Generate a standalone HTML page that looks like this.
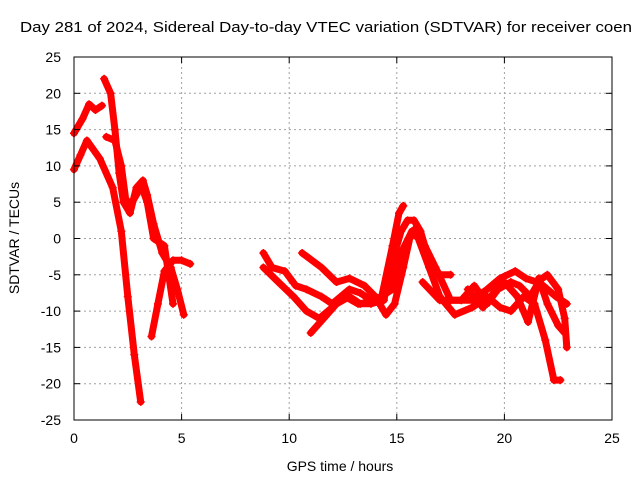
<!DOCTYPE html>
<html><head><meta charset="utf-8"><style>
html,body{margin:0;padding:0;background:#fff;}
svg{display:block;font-family:"Liberation Sans",sans-serif;}
</style></head><body>
<svg id="chart" width="640" height="480" viewBox="0 0 640 480">
<text x="20" y="32" font-size="15" textLength="612" lengthAdjust="spacingAndGlyphs">Day 281 of 2024, Sidereal Day-to-day VTEC variation (SDTVAR) for receiver coen</text>
<g id="grid"></g>
<g id="series"></g>
<rect x="74" y="57" width="538" height="363" fill="none" stroke="#000" stroke-width="1"/>
<g id="ticks"></g>
<text x="340" y="471" font-size="14" text-anchor="middle">GPS time / hours</text>
<text transform="translate(19,238) rotate(-90)" font-size="14" text-anchor="middle">SDTVAR / TECUs</text>
</svg>
<script>
const xTicks=[0,5,10,15,20,25];
const yTicks=[25,20,15,10,5,0,-5,-10,-15,-20,-25];
const traceA=[[0,14.5],[0.4,16.5],[0.7,18.5],[1.0,17.7],[1.3,18.3]];
const traceB=[[0,9.5],[0.3,11.5],[0.6,13.5],[1.2,11],[1.8,7],[2.2,1],[2.5,-8],[2.8,-16],[3.1,-22.5]];
const traceC=[[1.4,22],[1.7,20],[1.9,15],[2.1,9],[2.3,5],[2.6,3.5],[2.9,7],[3.2,8],[3.4,6],[3.7,2],[4.1,-2],[4.5,-4],[4.8,-7],[5.1,-10.5]];
const traceD=[[1.5,14],[1.9,13.5],[2.2,10],[2.4,5.5],[2.6,4.5],[2.9,6],[3.1,7.5],[3.4,5],[3.7,0],[4.2,-1],[4.4,-5],[4.6,-9]];
const traceE=[[3.6,-13.5],[3.9,-9],[4.2,-4.5],[4.6,-3],[5.0,-3],[5.4,-3.5]];
const traceF=[[8.8,-2],[9.2,-4],[9.8,-4.5],[10.3,-6.5],[10.8,-7],[11.5,-8],[12,-9],[12.8,-7],[13.3,-7.5],[13.8,-8.5],[14.3,-8],[14.8,-1],[15.1,3.5],[15.3,4.5]];
const traceG=[[8.8,-4],[9.5,-6],[10.2,-8],[10.8,-10],[11.4,-11],[12,-9.5],[12.6,-8],[13.2,-9],[13.8,-9],[14.4,-8.5],[14.8,-3],[15.2,1],[15.5,2.5],[15.8,2.5],[16.1,1],[16.5,-3],[17,-5],[17.5,-5]];
const traceH=[[10.6,-2],[11.5,-4],[12.2,-6],[12.8,-5.5],[13.5,-6.5],[14,-8],[14.5,-10.5],[14.9,-9],[15.3,-4],[15.6,0],[15.9,1.5],[16.3,-1],[16.8,-4],[17.5,-8.5],[18.5,-8.5],[19.2,-7],[19.8,-5.5],[20.5,-4.5],[21,-5.5],[21.5,-6],[22,-5],[22.5,-7],[22.8,-11],[22.9,-15]];
const traceI=[[11,-13],[11.6,-11],[12.2,-9],[12.8,-8],[13.3,-9],[14,-8.5],[14.8,-7],[15.2,-2],[15.7,1],[16,0],[16.5,-4],[17,-8],[17.7,-10.5],[18.5,-9.5],[19.2,-8],[19.8,-9.5],[20.3,-10],[20.9,-8],[21.4,-9],[21.9,-14],[22.3,-19.5],[22.6,-19.5]];
const traceJ=[[16.2,-6],[17,-8.5],[18,-8.5],[18.6,-6.5],[19.2,-9],[19.7,-7],[20.3,-6],[20.7,-6.5],[21.2,-8],[21.6,-6],[22,-7],[22.4,-8],[22.9,-9]];
const traceK=[[18.3,-7],[19,-9.5],[19.5,-7.5],[20,-6],[20.6,-8],[21.1,-11.5],[21.6,-5.5],[22,-9],[22.5,-12],[22.8,-13]];
const traces=[traceA,traceB,traceC,traceD,traceE,traceF,traceG,traceH,traceI,traceJ,traceK];

const NS="http://www.w3.org/2000/svg";
const X0=74,X1=612,Y0=420,Y1=57;
function sx(v){return X0+(v-0)/(25-0)*(X1-X0);}
function sy(v){return Y0-(v+25)/50*(Y0-Y1);}
function mk(tag,attrs,parent){const e=document.createElementNS(NS,tag);for(const k in attrs)e.setAttribute(k,attrs[k]);parent.appendChild(e);return e;}
const grid=document.getElementById('grid'),ticks=document.getElementById('ticks'),ser=document.getElementById('series');
xTicks.forEach(t=>{
  const x=sx(t);
  if(t>0&&t<25){const l=mk('line',{x1:x,y1:Y1,x2:x,y2:Y0,stroke:'#a0a0a0','stroke-dasharray':'2,3'},grid);
    
    }
  mk('line',{x1:x,y1:Y0,x2:x,y2:Y0-6,stroke:'#000'},ticks);
  mk('line',{x1:x,y1:Y1,x2:x,y2:Y1+6,stroke:'#000'},ticks);
  const tx=mk('text',{x:x,y:Y0+23,'font-size':14,'text-anchor':'middle'},ticks);
  tx.textContent=t;
  
  
});
yTicks.forEach(t=>{
  const y=sy(t);
  if(t>-25&&t<25){const l=mk('line',{x1:X0,y1:y,x2:X1,y2:y,stroke:'#a0a0a0','stroke-dasharray':'2,3'},grid);
    
    }
  mk('line',{x1:X0,y1:y,x2:X0+6,y2:y,stroke:'#000'},ticks);
  mk('line',{x1:X1,y1:y,x2:X1-6,y2:y,stroke:'#000'},ticks);
  const tx=mk('text',{x:X0-13,y:y+5,'font-size':14,'text-anchor':'end'},ticks);
  tx.textContent=t;
  
  
});
traces.forEach((tr,i)=>{
  const pts=tr.map(p=>sx(p[0]).toFixed(1)+','+sy(p[1]).toFixed(1)).join(' ');
  const pl=mk('polyline',{points:pts,fill:'none',stroke:'#ff0000','stroke-width':7,'stroke-linejoin':'round','stroke-linecap':'round'},ser);
  
  
  tr.forEach(p=>{
    const x=sx(p[0]),y=sy(p[1]);
    const m=mk('path',{d:`M${x-4},${y}H${x+4}M${x},${y-4}V${y+4}`,stroke:'#ff0000','stroke-width':1.5},ser);
    
    
  });
});
</script>
</body></html>
